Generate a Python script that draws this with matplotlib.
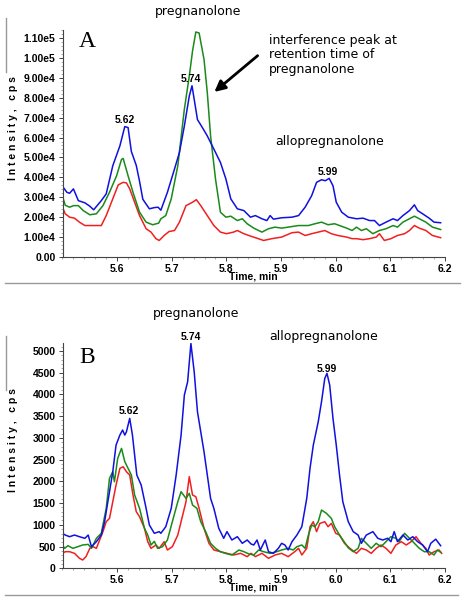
#! /usr/bin/env python

# chromatogram panels A and B (pregnanolone / allopregnanolone)

import matplotlib
matplotlib.use('Agg')
import matplotlib.pyplot as plt
from matplotlib.lines import Line2D
from matplotlib.ticker import AutoMinorLocator, FixedLocator

# ---- panel A data (intensity in units of 1e4 cps) ----
a_blue_t = [5.500, 5.508, 5.513, 5.520, 5.529, 5.541, 5.550, 5.557, 5.571, 5.580,
            5.592, 5.605, 5.614, 5.620, 5.626, 5.635, 5.641, 5.647, 5.659, 5.668,
            5.675, 5.680, 5.692, 5.705, 5.714, 5.723, 5.732, 5.737, 5.742, 5.747,
            5.756, 5.765, 5.777, 5.789, 5.799, 5.808, 5.820, 5.832, 5.844, 5.853,
            5.865, 5.874, 5.880, 5.886, 5.901, 5.920, 5.932, 5.944, 5.956, 5.965,
            5.974, 5.981, 5.988, 5.995, 6.001, 6.011, 6.023, 6.038, 6.050, 6.062,
            6.071, 6.080, 6.092, 6.105, 6.113, 6.123, 6.135, 6.144, 6.150, 6.159,
            6.171, 6.180, 6.192]
a_blue = [3.55, 3.25, 3.20, 3.42, 2.83, 2.72, 2.55, 2.37, 2.83, 3.17,
          4.58, 5.58, 6.55, 6.50, 5.30, 4.60, 3.80, 2.90, 2.42, 2.48,
          2.50, 2.35, 3.25, 4.42, 5.25, 6.58, 8.08, 8.60, 7.75, 6.90,
          6.50, 6.08, 5.42, 4.75, 3.92, 2.92, 2.42, 2.33, 2.00, 2.08,
          1.92, 1.83, 2.08, 1.90, 1.97, 2.00, 2.08, 2.50, 3.08, 3.75,
          3.88, 3.83, 3.95, 3.58, 2.75, 2.25, 2.00, 1.92, 1.95, 1.83,
          1.83, 1.58, 1.75, 1.92, 1.83, 2.08, 2.33, 2.62, 2.33, 2.17,
          1.95, 1.75, 1.72]

a_green_t = [5.500, 5.505, 5.513, 5.520, 5.529, 5.538, 5.550, 5.562, 5.574, 5.586,
             5.599, 5.608, 5.611, 5.620, 5.629, 5.641, 5.653, 5.665, 5.676, 5.680,
             5.689, 5.699, 5.711, 5.723, 5.732, 5.738, 5.744, 5.750, 5.759, 5.765,
             5.771, 5.780, 5.789, 5.799, 5.808, 5.820, 5.829, 5.838, 5.850, 5.865,
             5.877, 5.889, 5.901, 5.913, 5.932, 5.950, 5.962, 5.974, 5.986, 5.998,
             6.010, 6.020, 6.030, 6.038, 6.047, 6.056, 6.068, 6.080, 6.092, 6.105,
             6.113, 6.123, 6.135, 6.144, 6.153, 6.165, 6.177, 6.192]
a_green = [3.05, 2.60, 2.50, 2.58, 2.58, 2.33, 2.12, 2.17, 2.58, 3.25,
           4.08, 4.90, 4.95, 4.08, 3.25, 2.25, 1.75, 1.62, 1.70, 1.92,
           2.08, 2.92, 4.58, 7.42, 9.08, 10.35, 11.30, 11.25, 9.92, 8.25,
           6.08, 3.92, 2.25, 2.00, 2.05, 1.83, 1.92, 1.67, 1.45, 1.25,
           1.42, 1.50, 1.45, 1.50, 1.58, 1.58, 1.67, 1.75, 1.62, 1.67,
           1.55, 1.45, 1.33, 1.50, 1.33, 1.42, 1.17, 1.33, 1.42, 1.58,
           1.50, 1.75, 1.92, 2.05, 1.92, 1.75, 1.50, 1.38]

a_red_t = [5.500, 5.505, 5.513, 5.522, 5.531, 5.541, 5.556, 5.571, 5.580, 5.592,
           5.602, 5.611, 5.617, 5.623, 5.632, 5.641, 5.653, 5.662, 5.671, 5.677,
           5.686, 5.695, 5.705, 5.714, 5.726, 5.738, 5.745, 5.753, 5.765, 5.777,
           5.789, 5.800, 5.813, 5.820, 5.832, 5.844, 5.853, 5.868, 5.883, 5.901,
           5.920, 5.932, 5.944, 5.956, 5.968, 5.980, 5.992, 6.004, 6.020, 6.030,
           6.038, 6.050, 6.062, 6.074, 6.080, 6.089, 6.101, 6.113, 6.126, 6.135,
           6.144, 6.153, 6.165, 6.177, 6.192]
a_red = [2.50, 2.17, 2.00, 1.95, 1.75, 1.58, 1.58, 1.58, 2.08, 2.92,
         3.62, 3.75, 3.72, 3.42, 2.75, 2.08, 1.42, 1.25, 0.92, 0.83,
         1.08, 1.28, 1.33, 1.75, 2.58, 2.75, 2.88, 2.58, 2.08, 1.58,
         1.25, 1.17, 1.25, 1.33, 1.17, 1.05, 0.97, 0.83, 0.92, 1.00,
         1.22, 1.25, 1.08, 1.17, 1.25, 1.33, 1.17, 1.08, 1.00, 0.92,
         0.92, 0.87, 0.92, 1.00, 1.17, 0.83, 0.92, 1.08, 1.17, 1.33,
         1.58, 1.45, 1.33, 1.08, 0.97]

# ---- panel B data (cps) ----
b_blue_t = [5.500, 5.505, 5.513, 5.522, 5.531, 5.541, 5.547, 5.553, 5.562, 5.571,
            5.577, 5.586, 5.592, 5.598, 5.605, 5.610, 5.614, 5.617, 5.623, 5.628,
            5.632, 5.636, 5.644, 5.653, 5.659, 5.668, 5.677, 5.680, 5.689, 5.699,
            5.708, 5.717, 5.723, 5.729, 5.735, 5.741, 5.747, 5.753, 5.759, 5.765,
            5.771, 5.777, 5.786, 5.795, 5.801, 5.810, 5.820, 5.829, 5.838, 5.845,
            5.850, 5.856, 5.862, 5.871, 5.877, 5.886, 5.895, 5.901, 5.907, 5.913,
            5.920, 5.929, 5.938, 5.947, 5.953, 5.959, 5.968, 5.974, 5.980, 5.984,
            5.989, 5.995, 6.001, 6.007, 6.013, 6.023, 6.032, 6.041, 6.047, 6.056,
            6.068, 6.077, 6.086, 6.095, 6.101, 6.107, 6.113, 6.123, 6.132, 6.141,
            6.150, 6.159, 6.168, 6.174, 6.183, 6.192]
b_blue = [805, 765, 727, 765, 727, 690, 765, 497, 612, 765,
          1071, 1761, 2221, 2834, 3064, 3180, 3064, 3140, 3448, 3064,
          2605, 2145, 1915, 1379, 995, 805, 843, 805, 957, 1379,
          2145, 3064, 3984, 4290, 5172, 4520, 3600, 3140, 2680, 2145,
          1609, 1379, 920, 690, 843, 651, 727, 575, 651, 560,
          536, 651, 421, 651, 382, 344, 459, 575, 536, 421,
          612, 765, 957, 1609, 2300, 2834, 3370, 3830, 4368, 4483,
          4214, 3448, 2834, 2145, 1531, 1071, 843, 765, 575, 765,
          843, 690, 651, 690, 612, 843, 612, 765, 651, 727,
          612, 536, 382, 575, 670, 520]

b_green_t = [5.500, 5.504, 5.510, 5.519, 5.528, 5.537, 5.547, 5.553, 5.562, 5.571,
             5.580, 5.586, 5.592, 5.595, 5.601, 5.608, 5.614, 5.620, 5.626, 5.632,
             5.641, 5.650, 5.656, 5.662, 5.668, 5.674, 5.683, 5.692, 5.701, 5.711,
             5.717, 5.726, 5.732, 5.738, 5.746, 5.753, 5.762, 5.771, 5.780, 5.789,
             5.798, 5.810, 5.823, 5.832, 5.841, 5.850, 5.859, 5.868, 5.880, 5.892,
             5.901, 5.913, 5.922, 5.929, 5.938, 5.944, 5.950, 5.956, 5.962, 5.968,
             5.974, 5.983, 5.992, 5.998, 6.007, 6.016, 6.023, 6.032, 6.041, 6.047,
             6.056, 6.065, 6.074, 6.083, 6.092, 6.101, 6.110, 6.116, 6.126, 6.135,
             6.144, 6.153, 6.162, 6.171, 6.180, 6.186, 6.192]
b_green = [536, 459, 520, 459, 497, 536, 550, 459, 690, 805,
           1379, 2069, 2221, 1990, 2528, 2758, 2452, 2299, 2145, 1685,
           1379, 920, 765, 536, 620, 459, 497, 651, 1071, 1531,
           1761, 1609, 1724, 1455, 1379, 1071, 843, 575, 459, 382,
           344, 306, 421, 382, 330, 306, 421, 382, 344, 382,
           421, 459, 421, 497, 536, 459, 765, 995, 957, 1071,
           1340, 1264, 1148, 957, 765, 600, 470, 382, 459, 690,
           575, 459, 575, 497, 612, 727, 690, 612, 805, 690,
           575, 459, 382, 382, 306, 421, 370]

b_red_t = [5.500, 5.505, 5.513, 5.522, 5.531, 5.537, 5.543, 5.550, 5.556, 5.562,
           5.568, 5.574, 5.580, 5.586, 5.592, 5.598, 5.605, 5.611, 5.617, 5.623,
           5.629, 5.635, 5.641, 5.650, 5.656, 5.662, 5.671, 5.677, 5.686, 5.692,
           5.701, 5.711, 5.720, 5.726, 5.732, 5.738, 5.744, 5.750, 5.759, 5.768,
           5.777, 5.789, 5.801, 5.813, 5.826, 5.838, 5.845, 5.853, 5.865, 5.877,
           5.889, 5.901, 5.913, 5.925, 5.932, 5.938, 5.947, 5.953, 5.959, 5.965,
           5.971, 5.980, 5.986, 5.992, 6.000, 6.007, 6.016, 6.026, 6.038, 6.047,
           6.056, 6.065, 6.074, 6.083, 6.092, 6.101, 6.110, 6.120, 6.129, 6.138,
           6.147, 6.156, 6.165, 6.171, 6.180, 6.189, 6.194]
b_red = [344, 382, 382, 344, 230, 191, 268, 459, 497, 459,
         651, 843, 1071, 1148, 1531, 1915, 2298, 2337, 2221, 2145,
         1685, 1302, 1187, 920, 612, 459, 536, 459, 612, 421,
         497, 765, 1225, 1531, 2107, 1685, 1647, 1379, 920, 575,
         421, 382, 344, 306, 344, 268, 344, 268, 344, 230,
         306, 344, 268, 382, 459, 306, 459, 957, 1071, 843,
         1033, 1071, 957, 1033, 805, 765, 575, 459, 344, 459,
         421, 344, 459, 536, 459, 344, 536, 612, 536, 612,
         727, 575, 459, 306, 382, 421, 344]

# ticks
x_ticks = [5.6, 5.7, 5.8, 5.9, 6.0, 6.1, 6.2]
x_labels = ['5.6', '5.7', '5.8', '5.9', '6.0', '6.1', '6.2']
a_y_ticks = [0, 1, 2, 3, 4, 5, 6, 7, 8, 9, 10, 11]
a_y_labels = ['0.00', '1.00e4', '2.00e4', '3.00e4', '4.00e4', '5.00e4',
              '6.00e4', '7.00e4', '8.00e4', '9.00e4', '1.00e5', '1.10e5']
b_y_ticks = [0, 500, 1000, 1500, 2000, 2500, 3000, 3500, 4000, 4500, 5000]
b_y_labels = [str(v) for v in b_y_ticks]

# colours
BLUE = '#1010e0'
GREEN = '#1a8a1a'
RED = '#f02020'
TICK_FONT = dict(family='Liberation Sans', weight='bold', size=7.5)


def style_axes(ax, yticks, ylabels, ymax):
    '''Common axis styling for a chromatogram panel.'''
    ax.set_xlim(5.5, 6.2)
    ax.set_ylim(0, ymax)
    for s in ['top', 'right']:
        ax.spines[s].set_visible(False)
    for s in ['left', 'bottom']:
        ax.spines[s].set_color('#444444')
        ax.spines[s].set_linewidth(0.8)
    ax.xaxis.set_major_locator(FixedLocator(x_ticks))
    ax.set_xticklabels(x_labels, fontdict=TICK_FONT)
    ax.xaxis.set_minor_locator(AutoMinorLocator(5))
    ax.yaxis.set_major_locator(FixedLocator(yticks))
    ax.set_yticklabels(ylabels, fontdict=TICK_FONT)
    ax.yaxis.set_minor_locator(AutoMinorLocator(5))
    ax.tick_params(which='major', length=3, width=0.7, color='#444444', pad=2)
    ax.tick_params(which='minor', length=1.5, width=0.5, color='#888888')
    ax.set_xlabel('Time, min', fontdict=TICK_FONT, labelpad=-2)
    ax.set_ylabel('I n t e n s i t y ,   c p s', fontdict=TICK_FONT)
    ax.yaxis.set_label_coords(-0.116, 0.57)


fig = plt.figure(figsize=(4.62, 6.0), dpi=100)

# Panel A
ax_a = fig.add_axes([62.5 / 462, 1 - 257 / 600, 382.5 / 462, 227 / 600])
ax_a.plot(a_red_t, a_red, color=RED, lw=1.1)
ax_a.plot(a_green_t, a_green, color=GREEN, lw=1.1)
ax_a.plot(a_blue_t, a_blue, color=BLUE, lw=1.1)
style_axes(ax_a, a_y_ticks, a_y_labels, 11.4)

ax_a.text(5.546, 10.8, 'A', family='Liberation Serif', fontsize=17, ha='center', va='center')
ax_a.text(5.748, 12.35, 'pregnanolone', fontsize=9, ha='center', va='center', clip_on=False)
ax_a.text(5.988, 5.8, 'allopregnanolone', fontsize=9, ha='center', va='center')
ax_a.text(5.877, 11.2, 'interference peak at\nretention time of\npregnanolone',
          fontsize=9, ha='left', va='top', linespacing=1.15)
ax_a.text(5.614, 6.9, '5.62', fontdict=TICK_FONT, ha='center', va='center')
ax_a.text(5.735, 8.95, '5.74', fontdict=TICK_FONT, ha='center', va='center')
ax_a.text(5.986, 4.25, '5.99', fontdict=TICK_FONT, ha='center', va='center')
ax_a.annotate('', xy=(5.774, 8.2), xytext=(5.861, 10.2),
              arrowprops=dict(arrowstyle='-|>', lw=2, color='black', mutation_scale=16))

# Panel B
ax_b = fig.add_axes([62.5 / 462, 1 - 568.3 / 600, 382.5 / 462, 225 / 600])
ax_b.plot(b_red_t, b_red, color=RED, lw=1.1)
ax_b.plot(b_green_t, b_green, color=GREEN, lw=1.1)
ax_b.plot(b_blue_t, b_blue, color=BLUE, lw=1.1)
style_axes(ax_b, b_y_ticks, b_y_labels, 5175)

ax_b.text(5.545, 4850, 'B', family='Liberation Serif', fontsize=17, ha='center', va='center')
ax_b.text(5.745, 5870, 'pregnanolone', fontsize=9, ha='center', va='center', clip_on=False)
ax_b.text(5.977, 5320, 'allopregnanolone', fontsize=9, ha='center', va='center', clip_on=False)
ax_b.text(5.621, 3620, '5.62', fontdict=TICK_FONT, ha='center', va='center')
ax_b.text(5.735, 5320, '5.74', fontdict=TICK_FONT, ha='center', va='center', clip_on=False)
ax_b.text(5.983, 4590, '5.99', fontdict=TICK_FONT, ha='center', va='center')

# grey separator lines from the original software export
for (x0, y0, x1, y1) in [(5, 283, 460, 283), (6, 18, 6, 72),
                         (5, 595, 458, 595), (6, 336, 6, 390)]:
    fig.add_artist(Line2D([x0 / 462, x1 / 462], [1 - y0 / 600, 1 - y1 / 600],
                          color='#999999', lw=1.0, transform=fig.transFigure))

plt.savefig('out.png', dpi=100)
